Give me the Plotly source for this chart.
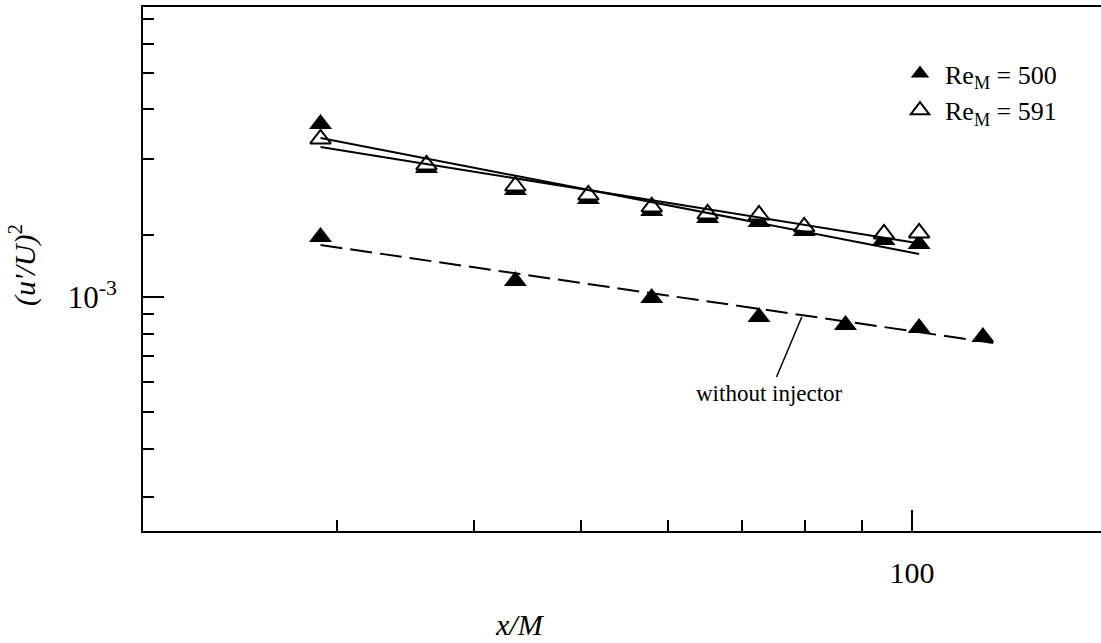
import numpy as np
import plotly.graph_objects as go

# Downstream stations x/M
X_591 = [29, 36.2, 43.6, 50.8, 58, 65.2, 72.6, 79.8, 94.3, 101.5]
Y_591 = [2.593e-3, 2.216e-3, 1.952e-3, 1.849e-3, 1.720e-3, 1.649e-3,
         1.639e-3, 1.525e-3, 1.462e-3, 1.471e-3]

X_500 = [29, 36.2, 43.6, 50.8, 58, 65.2, 72.6, 79.8, 94.3, 101.5]
Y_500 = [2.837e-3, 2.177e-3, 1.906e-3, 1.805e-3, 1.680e-3, 1.610e-3,
         1.572e-3, 1.489e-3, 1.410e-3, 1.376e-3]

X_NOINJ = [29, 43.6, 58, 72.6, 87, 101.5, 116]
Y_NOINJ = [1.436e-3, 1.101e-3, 0.994e-3, 0.886e-3, 0.845e-3, 0.829e-3, 0.786e-3]

# Power-law fit end points
FIT_500_X = [29, 101.5]
FIT_500_Y = [2.608e-3, 1.296e-3]
FIT_591_X = [29, 101]
FIT_591_Y = [2.47e-3, 1.385e-3]
FIT_NOINJ_X = [29, 118.5]
FIT_NOINJ_Y = [1.368e-3, 0.758e-3]

# Axis ticks
X_MAJOR = [100]
X_MAJOR_TEXT = ["100"]
X_MINOR = [30, 40, 50, 60, 70, 80, 90]
Y_MAJOR = [1e-3]
Y_MAJOR_TEXT = ["10<sup>-3</sup>"]
Y_MINOR = [3e-4, 4e-4, 5e-4, 6e-4, 7e-4, 8e-4, 9e-4,
           1.45e-3, 2.3e-3, 3.1e-3, 3.85e-3, 4.6e-3, 5.35e-3]

# Leader line for the no-injector curve
LEADER_X = 79.4
LEADER_Y = 0.886e-3

SERIF = "Liberation Serif"
BLACK = "#000000"

W, H = 1101, 643
L, R, T, B = 143, 0, 7, 112
pw, ph = W - L - R, H - T - B


def px_to_paper(px, py):
    return (px - L) / pw, 1 - (py - T) / ph


fig = go.Figure()

fig.add_trace(go.Scatter(
    x=X_NOINJ, y=Y_NOINJ, mode="markers", showlegend=False,
    marker=dict(symbol="triangle-up", size=20, color=BLACK, line=dict(width=0)),
))
fig.add_trace(go.Scatter(
    x=X_500, y=Y_500, mode="markers", name="Re<sub>M</sub> = 500",
    marker=dict(symbol="triangle-up", size=20, color=BLACK, line=dict(width=0)),
))
fig.add_trace(go.Scatter(
    x=X_591, y=Y_591, mode="markers", name="Re<sub>M</sub> = 591",
    marker=dict(symbol="triangle-up", size=18, color="white",
                line=dict(width=2, color=BLACK)),
))

for fx, fy, dash in [(FIT_500_X, FIT_500_Y, "solid"),
                     (FIT_591_X, FIT_591_Y, "solid"),
                     (FIT_NOINJ_X, FIT_NOINJ_Y, "22px,8px")]:
    fig.add_trace(go.Scatter(
        x=fx, y=fy, mode="lines", showlegend=False,
        line=dict(color=BLACK, width=2, dash=dash),
    ))

fig.add_annotation(
    x=np.log10(LEADER_X), y=np.log10(LEADER_Y), xref="x", yref="y",
    text="without injector", showarrow=True, arrowhead=0, arrowwidth=1.5,
    arrowcolor=BLACK, ax=-32, ay=76, borderpad=3,
    font=dict(family=SERIF, size=23, color=BLACK),
)

# axis titles, placed in pixels and converted to paper coordinates
tx, ty = px_to_paper(520, 624)
fig.add_annotation(
    x=tx, y=ty, xref="paper", yref="paper", xanchor="center", yanchor="middle",
    text="<i>x/M</i>", showarrow=False,
    font=dict(family=SERIF, size=30, color=BLACK),
)
tx, ty = px_to_paper(22, 265)
fig.add_annotation(
    x=tx, y=ty, xref="paper", yref="paper", xanchor="center", yanchor="middle",
    text="<i>(u'/U)</i><sup>2</sup>", textangle=-90, showarrow=False,
    font=dict(family=SERIF, size=30, color=BLACK),
)

lx, ly = px_to_paper(895, 50)

fig.update_layout(
    width=W, height=H,
    margin=dict(l=L, r=R, t=T, b=B),
    paper_bgcolor="white", plot_bgcolor="white",
    font=dict(family=SERIF, color=BLACK),
    legend=dict(x=lx, y=ly, xanchor="left", yanchor="top",
                bgcolor="rgba(0,0,0,0)", font=dict(family=SERIF, size=26),
                itemwidth=40, tracegroupgap=0),
    xaxis=dict(
        type="log", range=[np.log10(20), 2.1718],
        showgrid=False, zeroline=False,
        showline=True, linecolor=BLACK, linewidth=2, mirror=True,
        ticks="inside", tickvals=X_MAJOR, ticktext=X_MAJOR_TEXT,
        ticklen=21, tickwidth=2, tickcolor=BLACK,
        tickfont=dict(family=SERIF, size=30, color=BLACK),
        ticklabelstandoff=14,
        minor=dict(tickmode="array", tickvals=X_MINOR, ticks="inside",
                   ticklen=11, tickwidth=2, tickcolor=BLACK, showgrid=False),
    ),
    yaxis=dict(
        type="log", range=[-3.6126, -2.241],
        showgrid=False, zeroline=False,
        showline=True, linecolor=BLACK, linewidth=2, mirror=False,
        ticks="inside", tickvals=Y_MAJOR, ticktext=Y_MAJOR_TEXT,
        ticklen=21, tickwidth=2, tickcolor=BLACK,
        tickfont=dict(family=SERIF, size=31, color=BLACK),
        ticklabelstandoff=18,
        minor=dict(tickmode="array", tickvals=Y_MINOR, ticks="inside",
                   ticklen=11, tickwidth=2, tickcolor=BLACK, showgrid=False),
    ),
)

fig.write_html("out.html")
